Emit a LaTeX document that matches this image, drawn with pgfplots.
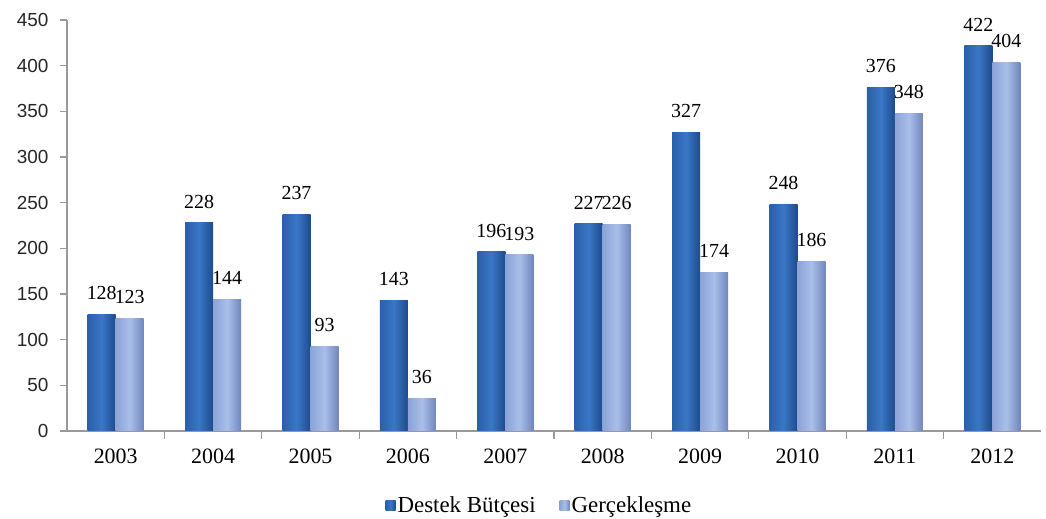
\documentclass[border=0pt]{standalone}
\usepackage{fontspec}
\setmainfont{Liberation Serif}
\newfontfamily\ticksans{Liberation Sans}
\usepackage{pgfplots}
\pgfplotsset{compat=1.18}

\definecolor{dkL}{HTML}{2A5FAA}
\definecolor{dkM}{HTML}{3A77C6}
\definecolor{dkR}{HTML}{1E4A8C}
\definecolor{ltL}{HTML}{8BA3D6}
\definecolor{ltM}{HTML}{A9BEEA}
\definecolor{ltR}{HTML}{7187BC}
\definecolor{axgray}{HTML}{999999}

\pgfplotsset{
    budget/.style={draw=none, left color=dkL, right color=dkR, middle color=dkM, bar shift=-14bp},
    actual/.style={draw=none, left color=ltL, right color=ltR, middle color=ltM, bar shift=14bp},
}
% one bar per plot so that every bar gets its own shading
\newcommand\pair[3]{%
  \addplot[budget, forget plot] coordinates {(#1,#2)};
  \addplot[actual, forget plot] coordinates {(#1,#3)};
}

\begin{document}
\begin{tikzpicture}
\begin{axis}[
    name=ax,
    scale only axis,
    width=974bp,
    height=411bp,
    ybar=0pt,
    bar width=28bp,
    xmin=-0.5, xmax=9.5,
    ymin=0, ymax=450,
    ytick={0,50,...,450},
    xtick={0,...,9},
    xticklabels={2003,2004,2005,2006,2007,2008,2009,2010,2011,2012},
    minor xtick={0.5,1.5,...,8.5},
    axis x line*=bottom,
    axis y line*=left,
    axis line style={axgray, line width=1.8bp, -},
    x tick style={draw=none},
    minor x tick style={draw=axgray, line width=1.2bp},
    minor tick length=8bp,
    y tick style={draw=axgray, line width=1.2bp},
    major tick length=7bp,
    tick align=outside,
    yticklabel style={font=\ticksans\fontsize{19}{22}\selectfont, text=black!85, xshift=-8bp},
    xticklabel style={font=\fontsize{22}{26}\selectfont, yshift=-7bp},
    /pgf/number format/assume math mode=true,
    nodes near coords,
    every node near coord/.append style={font=\fontsize{20}{24}\selectfont, yshift=11bp},
    legend style={at={(0.485,-0.15)}, anchor=north, draw=none, legend columns=2,
        font=\fontsize{23}{27}\selectfont,
        /tikz/every even column/.append style={column sep=22bp}},
    legend image code/.code={\draw[#1, draw=none] (6bp,-5bp) rectangle (16bp,5bp);},
    clip=false,
]
\addplot[budget] coordinates {(0,128)};
\addplot[actual] coordinates {(0,123)};
\legend{Destek Bütçesi, Gerçekleşme}
\pair{1}{228}{144}
\pair{2}{237}{93}
\pair{3}{143}{36}
\pair{4}{196}{193}
\pair{5}{227}{226}
\pair{6}{327}{174}
\pair{7}{248}{186}
\pair{8}{376}{348}
\pair{9}{422}{404}
\end{axis}
\path ([xshift=-67bp,yshift=-87bp]ax.south west) rectangle ([xshift=5bp,yshift=20bp]ax.north east);
\end{tikzpicture}
\end{document}
